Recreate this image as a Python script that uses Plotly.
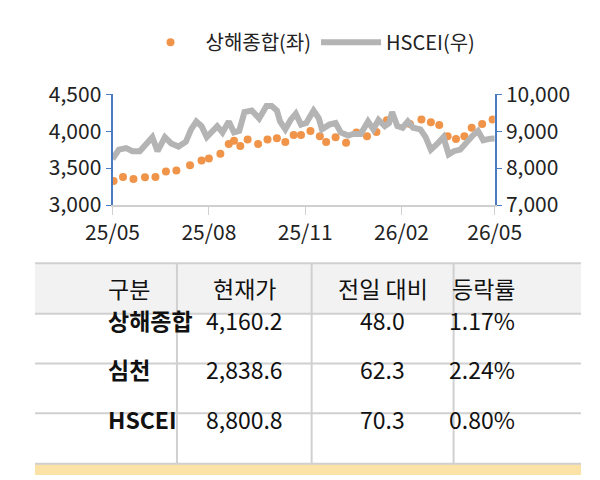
import plotly.graph_objects as go
import pandas as pd

start = pd.Timestamp("2025-05-01")
# 상해종합 (left axis): day offsets from 2025-05-01 and values
sh_days = [1,10,20,31,41,51,61,74,85,92,103,111,116,122,129,139,148,157,165,173,180,189,198,
           204,213,223,233,243,252,262,284,295,304,312,320,328,336,343,353,363]
sh_vals = [3326,3381,3352,3377,3381,3453,3466,3538,3602,3631,3695,3826,3869,3801,3886,3826,3886,3903,3852,3949,3949,4004,3932,
           3855,3919,3843,3982,3930,3990,4148,4097,4160,4122,4084,3932,3893,3932,4046,4097,4160.2]
# HSCEI (right axis)
hs_days = [0,6,13,19,26,33,38,43,50,56,63,70,75,80,85,90,95,100,105,111,116,121,126,133,140,147,152,157,160,165,
           170,175,180,185,192,197,200,207,213,218,225,230,237,244,249,254,260,264,267,272,277,282,287,294,299,
           304,309,316,321,326,332,337,344,349,354,361,365]
hs_vals = [8246,8500,8542,8458,8458,8712,8839,8458,8839,8669,8585,8712,9051,9263,9136,8839,8966,9136,8966,9263,8966,9008,9517,9559,
           9347,9686,9686,9559,9263,9051,9305,9475,9178,9220,9559,9347,9051,9178,9220,8966,8881,8924,8924,9263,9051,9305,
           9136,9220,9517,9136,9093,9263,9093,9051,8839,8500,8627,8839,8373,8458,8500,8669,8881,9008,8754,8797,8800.8]
xticks = ["2025-05-01","2025-08-01","2025-11-01","2026-02-01","2026-05-01"]
xticklabels = ["25/05","25/08","25/11","26/02","26/05"]

headers = ["구분","현재가","전일 대비","등락률"]
names = ["상해종합","심천","HSCEI"]
prices = ["4,160.2","2,838.6","8,800.8"]
changes = ["48.0","62.3","70.3"]
rates = ["1.17%","2.24%","0.80%"]

F = "Noto Sans CJK KR"
blue = "#4A7BC0"
W, H = 600, 480
fig = go.Figure()
fig.add_trace(go.Scatter(x=[start+pd.Timedelta(days=d) for d in sh_days], y=sh_vals, mode="markers",
                         marker=dict(color="#F0944A", size=8), name="상해종합(좌)", yaxis="y"))
fig.add_trace(go.Scatter(x=[start+pd.Timedelta(days=d) for d in hs_days], y=hs_vals, mode="lines",
                         line=dict(color="#B4B4B4", width=6), name="HSCEI(우)", yaxis="y2"))

# table layout (pixels)
col_edges = [0, 156, 304, 460, 600]
row_edges = [254, 308, 361, 414, 468]
def py(v): return 1 - v / H
shapes = []
shapes.append(dict(type="rect", xref="paper", yref="paper", x0=0, x1=1, y0=py(row_edges[1]), y1=py(row_edges[0]),
                   fillcolor="#F2F2F2", line=dict(width=0), layer="below"))
shapes.append(dict(type="rect", xref="paper", yref="paper", x0=0, x1=1, y0=0, y1=py(468),
                   fillcolor="#FBE3A8", line=dict(width=0)))
for r in row_edges:
    shapes.append(dict(type="line", xref="paper", yref="paper", x0=0, x1=1, y0=py(r), y1=py(r),
                       line=dict(color="#D0D0D0", width=2)))
for c in col_edges[1:-1]:
    shapes.append(dict(type="line", xref="paper", yref="paper", x0=c/W, x1=c/W, y0=py(row_edges[-1]), y1=py(row_edges[0]),
                       line=dict(color="#D0D0D0", width=2)))
annotations = []
cols = [names, prices, changes, rates]
for j in range(4):
    xc = (col_edges[j] + col_edges[j+1]) / 2 / W
    yc = (row_edges[0] + row_edges[1]) / 2
    annotations.append(dict(x=xc, y=py(yc), xref="paper", yref="paper", text=headers[j], showarrow=False,
                            font=dict(family=F, size=23, color="#111")))
    for i in range(3):
        yc = (row_edges[i+1] + row_edges[i+2]) / 2
        t = cols[j][i]
        if j == 0:
            t = "<b>%s</b>" % t
        annotations.append(dict(x=xc, y=py(yc), xref="paper", yref="paper", text=t, showarrow=False,
                                font=dict(family=F, size=23, color="#111")))

fig.update_layout(
    width=W, height=H, margin=dict(l=0, r=0, t=0, b=0),
    paper_bgcolor="white", plot_bgcolor="white",
    font=dict(family=F, size=20, color="#222"),
    shapes=shapes, annotations=annotations,
    showlegend=True,
    legend=dict(orientation="h", x=0.5, xanchor="center", y=1.005, yanchor="top", font=dict(size=20),
                itemwidth=60, tracegroupgap=20),
    xaxis=dict(domain=[0.142,0.842], anchor="y", range=["2025-05-01","2026-05-01"], tickvals=xticks, ticktext=xticklabels,
               showline=True, linecolor="#D0D0D0", linewidth=2, ticks="outside", tickcolor="#D0D0D0", ticklen=8,
               showgrid=False, tickfont=dict(size=21)),
    yaxis=dict(domain=[0.60,0.846], range=[3000,4500], dtick=500, tickformat=",", showgrid=False, tickfont=dict(size=21),
               showline=True, linecolor=blue, linewidth=2, ticks="outside", tickcolor=blue, ticklen=5, zeroline=False),
    yaxis2=dict(overlaying="y", side="right", anchor="x", range=[7000,10000], dtick=1000, tickformat=",", tickfont=dict(size=21),
                showgrid=False, showline=True, linecolor=blue, linewidth=2, ticks="outside", tickcolor=blue, ticklen=5),
)
fig.write_html("out.html")
